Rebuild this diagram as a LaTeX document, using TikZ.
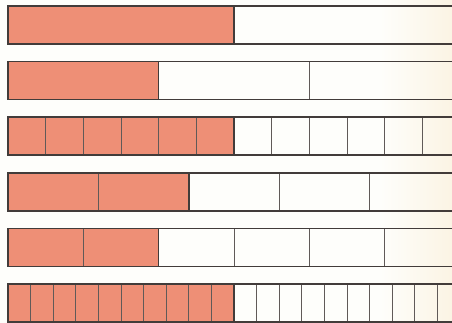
\documentclass[tikz,border=0pt]{standalone}
\usetikzlibrary{positioning}
\definecolor{salmon}{RGB}{238,143,118}
\definecolor{paper}{RGB}{254,254,251}
\definecolor{papertint}{RGB}{251,244,228}
\definecolor{barline}{RGB}{66,60,58}
\definecolor{divline}{RGB}{96,90,88}

\begin{document}
\begin{tikzpicture}[x=1pt,y=-1pt,
    frame/.style={draw=barline, line width=1.5pt},
    divider/.style={draw=divline, line width=0.9pt},
    shaded/.style={fill=salmon}]

    % Paper
    \fill[paper] (0,0) rectangle (452,323);
    \shade[left color=paper, right color=papertint] (380,0) rectangle (452,323);
    \useasboundingbox (0,0) rectangle (452,323);
    \clip (0,0) rectangle (452,323);

    % Fraction bars: parts / shaded parts
    \foreach \n/\k [count=\r from 0] in {2/1,3/1,12/6,5/2,6/2,20/10} {
        \pgfmathsetmacro{\ytop}{6+55.6*\r}
        \pgfmathsetmacro{\cw}{452/\n}
        \pgfmathtruncatemacro{\nn}{\n-1}
        \fill[shaded] (8,\ytop) rectangle ++({\k*\cw},38);
        \foreach \j in {1,...,\nn}
            \draw[divider] ({8+\j*\cw},\ytop) -- ++(0,38);
        \draw[frame] ({8+\k*\cw},\ytop) -- ++(0,38);
        \draw[frame] (8,\ytop) rectangle ++(452,38);
    }
\end{tikzpicture}
\end{document}
